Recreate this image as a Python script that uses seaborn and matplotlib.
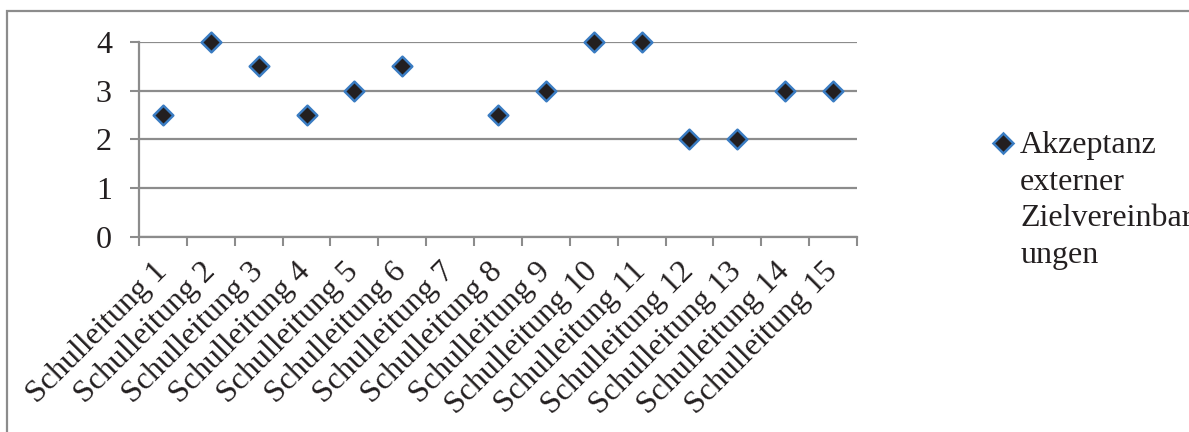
import numpy as np
import pandas as pd
import matplotlib
matplotlib.use("Agg")
import matplotlib.pyplot as plt
from matplotlib.patches import Rectangle
from matplotlib.ticker import FixedLocator
from matplotlib.transforms import ScaledTranslation
import seaborn as sns

# Data
categories = [f"Schulleitung {i}" for i in range(1, 16)]
acceptance = [2.5, 4, 3.5, 2.5, 3, 3.5, np.nan, 2.5, 3, 4, 4, 2, 2, 3, 3]
series_label = "Akzeptanz\nexterner\nZielvereinbar\nungen"
y_ticks = [0, 1, 2, 3, 4]

sns.set_theme(style="white")
plt.rcParams["font.family"] = ["Liberation Serif", "DejaVu Serif"]

FS = 23
GRAY = "#8c8c8c"
FILL = "#231f20"
EDGE = "#3a7cc2"

fig = plt.figure(figsize=(11.89, 4.32), dpi=100)
ax = fig.add_axes([0.1169, 0.4514, 0.7208 - 0.1169, 0.9028 - 0.4514])

df = pd.DataFrame({"pos": np.arange(len(categories)), "value": acceptance})
sns.scatterplot(data=df, x="pos", y="value", marker="D", s=100,
                color=FILL, edgecolor=EDGE, linewidth=1.8, ax=ax,
                zorder=5, legend=False, clip_on=False)

ax.set_xlim(-0.5, len(categories) - 0.5)
ax.set_ylim(0, 4)
ax.set_yticks(y_ticks)
ax.set_yticklabels([str(t) for t in y_ticks], fontsize=FS, color="#231f20")
ax.yaxis.grid(True, color=GRAY, linewidth=1.6)
ax.set_axisbelow(True)

# boundary ticks between categories, labels centred on each category
ax.xaxis.set_major_locator(FixedLocator(np.arange(-0.5, len(categories), 1.0)))
ax.xaxis.set_major_formatter(plt.NullFormatter())
ax.xaxis.set_minor_locator(FixedLocator(np.arange(len(categories))))
ax.set_xticklabels(categories, minor=True, fontsize=FS, color="#231f20",
                   rotation=45, ha="right", va="center", rotation_mode="anchor")
ax.tick_params(axis="x", which="minor", length=0, pad=22)
ax.tick_params(axis="x", which="major", length=6.5, width=1.5, color=GRAY,
               direction="out", bottom=True)
ax.tick_params(axis="y", length=6.5, width=1.5, color=GRAY, direction="out",
               left=True, pad=13)
ax.set_xlabel("")
ax.set_ylabel("")

for side in ("top", "right"):
    ax.spines[side].set_visible(False)
for side in ("left", "bottom"):
    ax.spines[side].set_color(GRAY)
    ax.spines[side].set_linewidth(1.6)

# legend entry
fig.add_artist(plt.Line2D([0.8436], [0.669], marker="D", markersize=10,
                          markerfacecolor=FILL, markeredgecolor=EDGE,
                          markeredgewidth=1.8, linestyle="none",
                          transform=fig.transFigure))
fig.text(0.858, 0.6458, series_label, fontsize=FS, color="#231f20",
         va="top", ha="left", linespacing=1.35,
         transform=fig.transFigure + ScaledTranslation(0, 0.22, fig.dpi_scale_trans))

# chart frame
fig.add_artist(Rectangle((0.0059, -0.2), 1.5, 0.9745 + 0.2, fill=False,
                         edgecolor=GRAY, linewidth=1.6,
                         transform=fig.transFigure))

fig.savefig("out.png", dpi=100)
